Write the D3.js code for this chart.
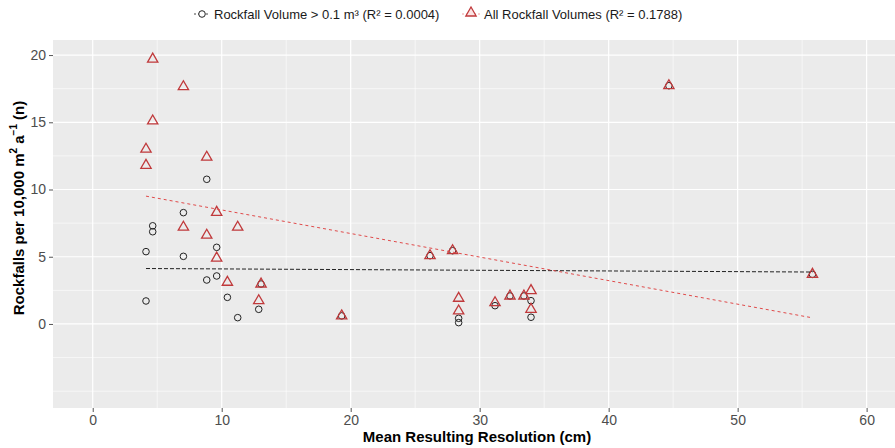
<!DOCTYPE html>
<html>
<head>
<meta charset="utf-8">
<title>Rockfalls vs resolution</title>
<script src="https://d3js.org/d3.v7.min.js"></script>
<style>
  body{margin:0;background:#fff;}
  svg{font-family:"Liberation Sans", Arial, sans-serif;}
</style>
</head>
<body>
<script>
// Rockfall Volume > 0.1 m3 (circles)
var bigX = [4.13, 4.13, 4.65, 4.65, 7.03, 7.03, 8.84, 8.84, 9.61, 9.61, 10.44, 11.24, 12.87, 13.05, 19.3,
            26.15, 27.9, 28.37, 28.37, 31.19, 32.35, 33.43, 33.98, 33.98, 44.67, 55.8];
var bigY = [5.38, 1.71, 7.3, 6.86, 8.28, 5.03, 10.76, 3.27, 5.7, 3.57, 1.98, 0.47, 1.09, 2.97, 0.6,
            5.08, 5.45, 0.42, 0.1, 1.36, 2.08, 2.08, 1.73, 0.5, 17.72, 3.69];
// All rockfall volumes (triangles)
var allX = [4.13, 4.13, 4.65, 4.65, 7.03, 7.03, 8.84, 8.84, 9.61, 9.61, 10.44, 11.24, 12.87, 13.05, 19.3,
            26.15, 27.9, 28.37, 28.37, 31.19, 32.35, 33.43, 33.98, 33.98, 44.67, 55.8];
var allY = [13.0, 11.8, 19.7, 15.1, 17.65, 7.2, 12.4, 6.6, 8.3, 4.9, 3.1, 7.2, 1.73, 2.97, 0.6,
            5.08, 5.45, 1.91, 0.97, 1.58, 2.08, 2.08, 2.48, 1.09, 17.72, 3.69];

var xTicks = [0, 10, 20, 30, 40, 50, 60];
var xMinor = [5, 15, 25, 35, 45, 55];
var yTicks = [0, 5, 10, 15, 20];
var yMinor = [-5, -2.5, 2.5, 7.5, 12.5, 17.5];
var legendLabels = ["Rockfall Volume > 0.1 m\u00b3 (R\u00b2 = 0.0004)", "All Rockfall Volumes (R\u00b2 = 0.1788)"];

var width = 895, height = 448;
var pLeft = 53, pRight = 895, pTop = 40, pBottom = 408;

var svg = d3.select("body").append("svg")
    .attr("width", width)
    .attr("height", height);

var x = d3.scaleLinear().domain([-3.08, 62.2]).range([pLeft, pRight]);
var y = d3.scaleLinear().domain([-6.25, 21.12]).range([pBottom, pTop]);

// panel
svg.append("rect")
    .attr("x", pLeft).attr("y", pTop)
    .attr("width", pRight - pLeft).attr("height", pBottom - pTop)
    .attr("fill", "#ebebeb");

var grid = svg.append("g");
grid.selectAll(".xmin").data(xMinor).enter().append("line")
    .attr("x1", x).attr("x2", x).attr("y1", pTop).attr("y2", pBottom)
    .attr("stroke", "#fff").attr("stroke-width", 0.6);
grid.selectAll(".ymin").data(yMinor).enter().append("line")
    .attr("x1", pLeft).attr("x2", pRight).attr("y1", y).attr("y2", y)
    .attr("stroke", "#fff").attr("stroke-width", 0.6);
grid.selectAll(".xmaj").data(xTicks).enter().append("line")
    .attr("x1", x).attr("x2", x).attr("y1", pTop).attr("y2", pBottom)
    .attr("stroke", "#fff").attr("stroke-width", 1.2);
grid.selectAll(".ymaj").data(yTicks).enter().append("line")
    .attr("x1", pLeft).attr("x2", pRight).attr("y1", y).attr("y2", y)
    .attr("stroke", "#fff").attr("stroke-width", 1.2);

// axes
var xAxis = svg.append("g")
    .attr("transform", "translate(0," + pBottom + ")")
    .call(d3.axisBottom(x).tickValues(xTicks).tickSize(4).tickPadding(3));
var yAxis = svg.append("g")
    .attr("transform", "translate(" + pLeft + ",0)")
    .call(d3.axisLeft(y).tickValues(yTicks).tickSize(4).tickPadding(3));
[xAxis, yAxis].forEach(function (a) {
    a.select(".domain").remove();
    a.selectAll(".tick line").attr("stroke", "#555");
    a.selectAll(".tick text").attr("fill", "#4d4d4d")
        .style("font-size", "14px").style("font-family", "Liberation Sans, Arial, sans-serif");
});

// least squares fit over the data range
function fit(xs, ys) {
    var mx = d3.mean(xs), my = d3.mean(ys);
    var sxy = d3.sum(xs, function (v, i) { return (v - mx) * (ys[i] - my); });
    var sxx = d3.sum(xs, function (v) { return (v - mx) * (v - mx); });
    var b = sxy / sxx, a = my - b * mx;
    var ext = d3.extent(xs);
    return ext.map(function (v) { return [v, a + b * v]; });
}

var line = d3.line()
    .x(function (d) { return x(d[0]); })
    .y(function (d) { return y(d[1]); });

var tri = d3.symbol().type(d3.symbolTriangle).size(46);

// points
svg.selectAll(".big").data(bigX).enter().append("circle")
    .attr("cx", function (d) { return x(d); })
    .attr("cy", function (d, i) { return y(bigY[i]); })
    .attr("r", 3.3)
    .attr("fill", "none").attr("stroke", "#222").attr("stroke-width", 1);

svg.selectAll(".all").data(allX).enter().append("path")
    .attr("d", tri)
    .attr("transform", function (d, i) { return "translate(" + x(d) + "," + y(allY[i]) + ")"; })
    .attr("fill", "none").attr("stroke", "#c0393b").attr("stroke-width", 1.3);

// trend lines
svg.append("path").datum(fit(bigX, bigY))
    .attr("d", line).attr("fill", "none")
    .attr("stroke", "#222").attr("stroke-width", 1).attr("stroke-dasharray", "4,2");
svg.append("path").datum(fit(allX, allY))
    .attr("d", line).attr("fill", "none")
    .attr("stroke", "#e04a4a").attr("stroke-width", 1).attr("stroke-dasharray", "3,3");

// axis titles
svg.append("text")
    .attr("x", (pLeft + pRight) / 2 + 3).attr("y", 442)
    .attr("text-anchor", "middle")
    .style("font-size", "15px").style("font-weight", "bold")
    .text("Mean Resulting Resolution (cm)");

var yl = svg.append("text")
    .attr("transform", "translate(24,208) rotate(-90)")
    .attr("text-anchor", "middle")
    .style("font-size", "15px").style("font-weight", "bold");
yl.append("tspan").text("Rockfalls per 10,000 m");
yl.append("tspan").attr("dy", -7).style("font-size", "10px").text("2");
yl.append("tspan").attr("dy", 7).text(" a");
yl.append("tspan").attr("dy", -7).style("font-size", "10px").text("\u22121");
yl.append("tspan").attr("dy", 7).text(" (n)");

// legend
var lg = svg.append("g");
lg.append("line").attr("x1", 194).attr("x2", 210).attr("y1", 14).attr("y2", 14)
    .attr("stroke", "#444").attr("stroke-width", 1).attr("stroke-dasharray", "2,2");
lg.append("circle").attr("cx", 202).attr("cy", 14).attr("r", 3.3)
    .attr("fill", "#fff").attr("stroke", "#222").attr("stroke-width", 1);
lg.append("text").attr("x", 214).attr("y", 19)
    .style("font-size", "13px").attr("fill", "#1a1a1a").text(legendLabels[0]);

lg.append("line").attr("x1", 462).attr("x2", 480).attr("y1", 14).attr("y2", 14)
    .attr("stroke", "#f0a0a0").attr("stroke-width", 1).attr("stroke-dasharray", "2,2");
lg.append("path").attr("d", tri)
    .attr("transform", "translate(471,13)")
    .attr("fill", "#fbe3e3").attr("stroke", "#c0393b").attr("stroke-width", 1.3);
lg.append("text").attr("x", 484).attr("y", 19)
    .style("font-size", "13px").attr("fill", "#1a1a1a").text(legendLabels[1]);
</script>
</body>
</html>
